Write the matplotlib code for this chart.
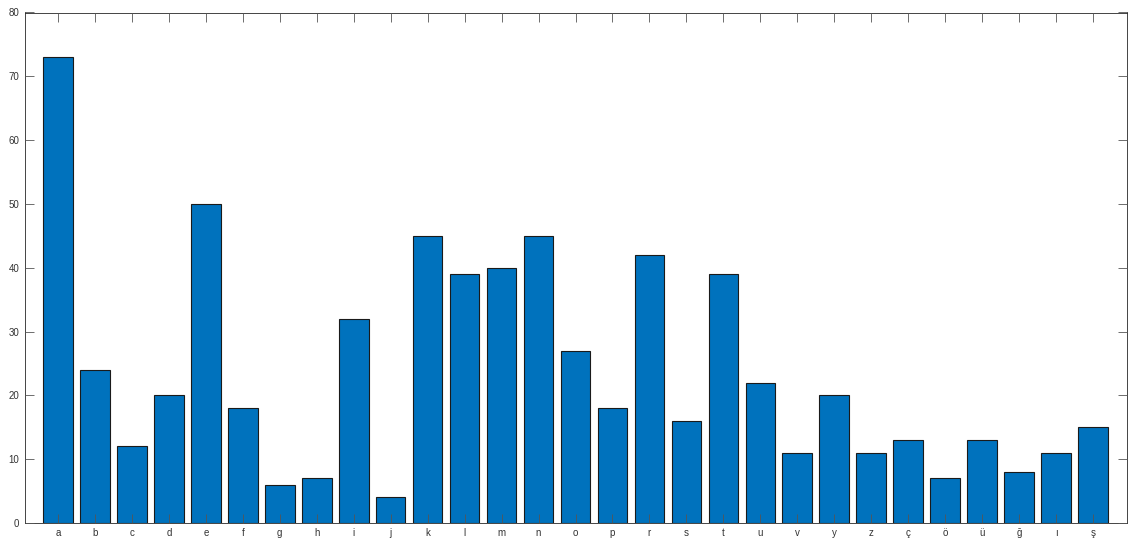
import matplotlib
matplotlib.use("Agg")
import matplotlib.pyplot as plt
import numpy as np

letters = ["a", "b", "c", "d", "e", "f", "g", "h", "i", "j", "k", "l", "m", "n",
           "o", "p", "r", "s", "t", "u", "v", "y", "z", "ç", "ö", "ü", "ğ", "ı", "ş"]
counts = [73, 24, 12, 20, 50, 18, 6, 7, 32, 4, 45, 39, 40, 45,
          27, 18, 42, 16, 39, 22, 11, 20, 11, 13, 7, 13, 8, 11, 15]
y_ticks = [0, 10, 20, 30, 40, 50, 60, 70, 80]

plt.rcParams["font.family"] = ["Liberation Sans", "DejaVu Sans"]

fig = plt.figure(figsize=(11.28, 5.43), dpi=100)
ax = fig.add_axes([25 / 1128, 1 - 523 / 543, (1127 - 25) / 1128, (523 - 12.5) / 543])

x = np.arange(len(letters))
ax.bar(x, counts, width=0.8, color="#0072BD", edgecolor="#1a1a1a", linewidth=0.8, zorder=2)

ax.set_xlim(-0.893, len(letters) - 1 + 0.92)
ax.set_ylim(0, 80)
ax.set_xticks(x)
ax.set_xticklabels(letters)
ax.set_yticks(y_ticks)

edge = "#262626"
for s in ax.spines.values():
    s.set_color(edge)
    s.set_linewidth(0.6)
ax.tick_params(axis="both", direction="in", length=6.5, width=0.6, color="#555555",
               labelsize=7, labelcolor="#333333", top=True, right=True)
ax.tick_params(axis="x", pad=3.5)
ax.tick_params(axis="y", pad=4)
for t in ax.get_xticklines() + ax.get_yticklines():
    t.set_zorder(3)
ax.set_axisbelow(False)

fig.savefig("out.png", dpi=100)
